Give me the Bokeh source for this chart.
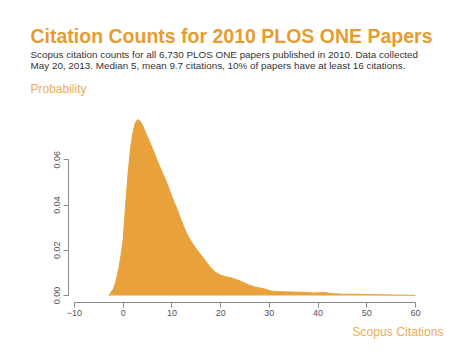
from bokeh.plotting import figure
from bokeh.models import Title, Range1d, FixedTicker, ColumnDataSource, NumeralTickFormatter
from bokeh.embed import file_html
from bokeh.resources import INLINE

# ---- data ----
citations = [-3.0, -2.7, -2.0, -1.65, -1.3, -1.0, -0.5, 0.0, 0.5, 1.0, 1.5, 2.0, 2.5,
             3.0, 3.5, 4.0, 5.0, 6.0, 7.0, 8.0, 9.0, 10.0, 11.0, 12.0, 13.0, 14.0,
             15.0, 16.0, 17.0, 18.0, 19.0, 20.0, 21.0, 22.0, 23.0, 24.0, 25.0, 26.0,
             27.0, 28.0, 29.0, 30.0, 31.0, 33.0, 35.0, 37.0, 39.0, 41.0, 42.0, 43.0,
             45.0, 48.0, 50.0, 53.0, 56.0, 59.0, 60.0]
probability = [0.0, 0.0008, 0.003, 0.0052, 0.0081, 0.011, 0.017, 0.025, 0.040, 0.054,
               0.065, 0.072, 0.0765, 0.0778, 0.0770, 0.0750, 0.0700, 0.0650, 0.0595,
               0.0545, 0.0495, 0.0437, 0.0385, 0.0327, 0.0275, 0.0238, 0.0205, 0.0178,
               0.0150, 0.0122, 0.0102, 0.0090, 0.0083, 0.0079, 0.0072, 0.0064, 0.0054,
               0.0045, 0.0038, 0.0033, 0.0029, 0.0022, 0.0018, 0.0016, 0.0015, 0.0014,
               0.0011, 0.0013, 0.0011, 0.0008, 0.0006, 0.0005, 0.0004, 0.0003, 0.0002,
               0.0001, 0.0]
x_ticks = [-10, 0, 10, 20, 30, 40, 50, 60]
y_ticks = [0.0, 0.02, 0.04, 0.06]

title_text = "Citation Counts for 2010 PLOS ONE Papers"
subtitle_1 = "Scopus citation counts for all 6,730 PLOS ONE papers published in 2010. Data collected"
subtitle_2 = "May 20, 2013. Median 5, mean 9.7 citations, 10% of papers have at least 16 citations."
y_label = "Probability"
x_label = "Scopus Citations"

ORANGE = "#E9A23B"
TITLE_ORANGE = "#E89C2F"
LABEL_ORANGE = "#ECAC58"
FONT = "Liberation Sans"

p = figure(width=474, height=355, output_backend="svg", toolbar_location=None,
           x_range=Range1d(-11.232, 69.24), y_range=Range1d(-0.0031, 0.0840),
           min_border_left=68, min_border_right=14, min_border_top=105,
           min_border_bottom=53)
p.outline_line_color = None
p.xgrid.visible = False
p.ygrid.visible = False
p.background_fill_color = "white"
p.border_fill_color = "white"

src = ColumnDataSource(dict(x=citations, y=probability))
p.varea(x="x", y1=0, y2="y", source=src, fill_color=ORANGE)
p.line(x="x", y="y", source=src, line_color=ORANGE, line_width=1)

for ax in p.xaxis:
    ax.ticker = FixedTicker(ticks=x_ticks)
    ax.bounds = (-10, 60)
    ax.axis_line_color = "#888888"
    ax.major_tick_line_color = "#888888"
    ax.major_tick_out = 5
    ax.major_tick_in = 0
    ax.minor_tick_line_color = None
    ax.major_label_text_font = FONT
    ax.major_label_text_font_size = "9px"
    ax.major_label_text_color = "#555555"
    ax.major_label_standoff = 2

for ax in p.yaxis:
    ax.ticker = FixedTicker(ticks=y_ticks)
    ax.bounds = (0, 0.06)
    ax.axis_line_color = "#888888"
    ax.major_tick_line_color = "#888888"
    ax.major_tick_out = 5
    ax.major_tick_in = 0
    ax.minor_tick_line_color = None
    ax.major_label_text_font = FONT
    ax.major_label_text_font_size = "9px"
    ax.major_label_text_color = "#555555"
    ax.major_label_orientation = "vertical"
    ax.major_label_standoff = 3
    ax.formatter = NumeralTickFormatter(format="0.00")

# stacked titles above (first added = nearest the frame)
p.add_layout(Title(text=y_label, align="left", offset=-38, standoff=18.4,
                   text_font=FONT, text_font_size="12px", text_font_style="normal",
                   text_color=LABEL_ORANGE), "above")
p.add_layout(Title(text=subtitle_2, align="left", offset=-38, standoff=1.0,
                   text_font=FONT, text_font_size="9.9px", text_font_style="normal",
                   text_color="#333333"), "above")
p.add_layout(Title(text=subtitle_1, align="left", offset=-38, standoff=-4.5,
                   text_font=FONT, text_font_size="9.9px", text_font_style="normal",
                   text_color="#333333"), "above")
p.add_layout(Title(text=title_text, align="left", offset=-38, standoff=2.5,
                   text_font=FONT, text_font_size="19.5px", text_font_style="bold",
                   text_color=TITLE_ORANGE), "above")
p.add_layout(Title(text=x_label, align="left", offset=283.7, standoff=9,
                   text_font=FONT, text_font_size="12.2px", text_font_style="normal",
                   text_color=LABEL_ORANGE), "below")

open("out.html", "w").write(file_html(p, INLINE))
